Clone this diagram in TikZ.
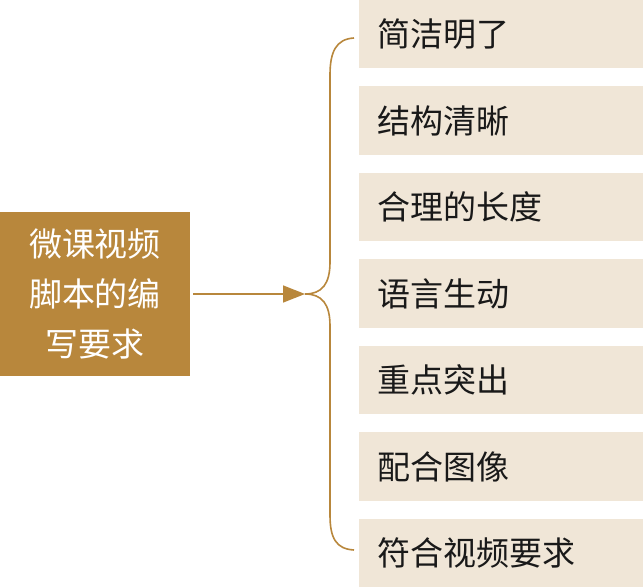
\documentclass[tikz,border=0pt]{standalone}
\usepackage{fontspec}
\setmainfont{Noto Sans CJK SC}
\usetikzlibrary{positioning, arrows.meta, calc}
\definecolor{topicbrown}{HTML}{B8873C}
\definecolor{itembeige}{HTML}{F0E6D7}

\begin{document}
\begin{tikzpicture}[x=1pt, y=-1pt,
    topic/.style={fill=topicbrown, text=white, minimum width=190pt, minimum height=164pt,
        inner sep=0pt, align=center, font=\fontsize{33}{50}\selectfont},
    item/.style={fill=itembeige, anchor=west, minimum height=68.5pt, inner xsep=18pt,
        text width=248pt, align=left, text=black!90, font=\fontsize{33}{40}\selectfont}]
    \useasboundingbox (0,0) rectangle (643,588);
    \node[topic] (req) at (95,294) {微课视频\\脚本的编\\写要求};
    \foreach \txt [count=\i] in {简洁明了, 结构清晰, 合理的长度, 语言生动, 重点突出, 配合图像, 符合视频要求}
        \node[item] (item\i) at (359,{34+86.5*(\i-1)}) {\txt};
    % brace
    \coordinate (cusp) at (305,294);
    \coordinate (btop) at ($(item1.west)+(-5,4)$);
    \coordinate (bbot) at ($(item7.west)+(-5,-3)$);
    \draw[topicbrown, line width=1.6pt] (btop) .. controls (336,39) and (330,52) .. (330,75)
        -- (330,262) .. controls (330,284) and (322,294) .. (cusp)
        .. controls (322,294) and (330,304) .. (330,326)
        -- (330,515) .. controls (330,538) and (336,549) .. (bbot);
    \draw[topicbrown, line width=1.6pt, -{Triangle[length=22pt, width=17pt]}, shorten <=3pt] (req.east) -- (cusp);
\end{tikzpicture}
\end{document}
